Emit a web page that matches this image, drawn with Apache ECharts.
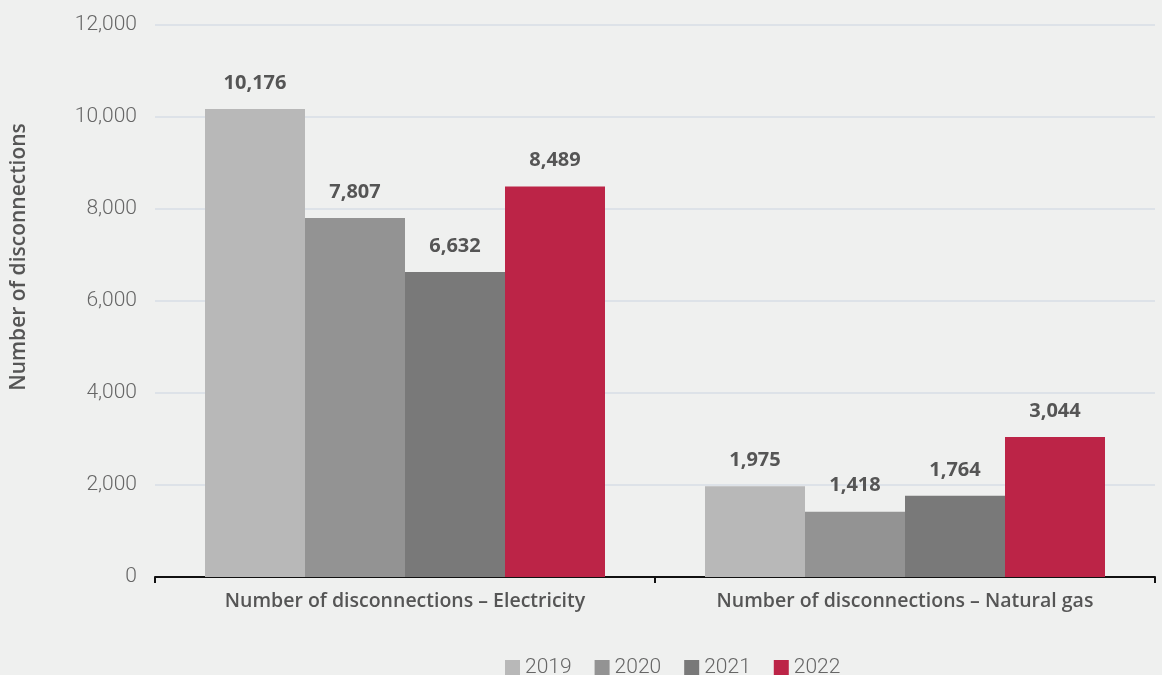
<!DOCTYPE html>
<html><head><meta charset="utf-8">
<script src="https://cdn.jsdelivr.net/npm/echarts@6/dist/echarts.min.js"></script>
<style>html,body{margin:0;padding:0;background:#eff0ef;}#c{width:1162px;height:675px;}</style>
</head><body><div id="c"></div>
<script>
const categories = ['Number of disconnections – Electricity', 'Number of disconnections – Natural gas'];
const years = ['2019', '2020', '2021', '2022'];
const values2019 = [10176, 1975];
const values2020 = [7807, 1418];
const values2021 = [6632, 1764];
const values2022 = [8489, 3044];
const colors = ['#b8b8b8', '#939393', '#797979', '#bc2447'];
const yTicks = [0, 2000, 4000, 6000, 8000, 10000, 12000];
const yAxisTitle = 'Number of disconnections';

const seriesValues = [values2019, values2020, values2021, values2022];
const fmt = v => v.toLocaleString('en-US');
const chart = echarts.init(document.getElementById('c'));
chart.setOption({
  backgroundColor: '#eff0ef',
  animation: false,
  color: colors,
  grid: { left: 155, right: 7, top: 25, bottom: 98 },
  graphic: [{
    type: 'text', rotation: Math.PI / 2, x: 9, y: 257,
    style: { text: yAxisTitle, fontFamily: 'Open Sans', fontWeight: 600, fontSize: 21, fill: '#555',
      align: 'center', verticalAlign: 'top' }
  }],
  legend: {
    left: 500, top: 652, itemWidth: 15, itemHeight: 15, itemGap: 23,
    icon: 'rect',
    textStyle: { fontFamily: 'Roboto', fontWeight: 300, fontSize: 21, color: '#666' },
    data: years
  },
  xAxis: {
    type: 'category', data: categories,
    axisLine: { lineStyle: { color: '#111', width: 2 } },
    axisTick: { show: true, length: 6, lineStyle: { color: '#111', width: 2 } },
    axisLabel: { interval: 0, fontFamily: 'Open Sans', fontWeight: 600, fontSize: 19.5, color: '#555', margin: 14 }
  },
  yAxis: {
    type: 'value', min: yTicks[0], max: yTicks[yTicks.length - 1], interval: 2000,
    axisLine: { show: false }, axisTick: { show: false },
    axisLabel: { fontFamily: 'Roboto', fontWeight: 300, fontSize: 21, color: '#666', margin: 18, formatter: fmt },
    splitLine: { lineStyle: { color: '#dde2e8', width: 2 } }
  },
  series: years.map((y, i) => ({
    name: y, type: 'bar', data: seriesValues[i], barWidth: 100, barGap: '0%',
    itemStyle: { color: colors[i] },
    label: { show: true, position: 'top', distance: 16, fontFamily: 'Open Sans', fontWeight: 700, fontSize: 20, color: '#555',
      formatter: p => fmt(p.value) }
  }))
});
</script></body></html>
